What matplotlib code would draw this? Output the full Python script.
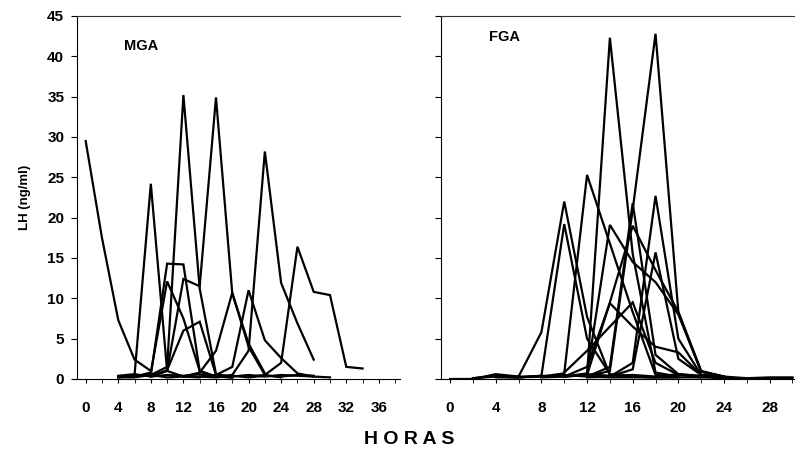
import matplotlib
matplotlib.use("Agg")
import matplotlib.pyplot as plt

plt.rcParams['font.family'] = ['Liberation Sans', 'DejaVu Sans']
plt.rcParams['font.weight'] = 'bold'

# LH profiles (ng/ml), sampled every 2 hours; each entry: (start hour, values)
MGA = [
    (0, [29.5, 17.5, 7.3, 2.4, 1.0]),
    (4, [0.3, 0.5, 24.2, 1.0, 0.3, 0.2]),
    (6, [0.3, 0.5, 1.5, 35.2, 11.2, 0.6, 0.3]),
    (4, [0.2, 0.4, 0.5, 14.3, 14.2, 1.0, 0.3, 0.2]),
    (8, [0.3, 1.0, 12.4, 11.5, 34.9, 10.6, 4.4, 0.7]),
    (6, [0.3, 0.8, 12.1, 7.5, 1.0, 0.3, 0.2]),
    (8, [0.3, 1.1, 6.0, 7.1, 0.5, 0.2]),
    (12, [0.3, 0.8, 3.5, 10.7, 4.0, 0.5, 0.2]),
    (14, [0.3, 0.5, 1.5, 11.0, 4.8, 2.6, 0.7, 0.3]),
    (16, [0.3, 0.5, 3.5, 28.2, 11.9, 6.9, 2.4]),
    (20, [0.3, 0.5, 2.0, 16.4, 10.8, 10.4, 1.5, 1.3]),
    (4, [0.4, 0.6, 0.3, 0.5, 0.4, 0.6, 0.4, 0.3, 0.5, 0.3, 0.5, 0.4, 0.3, 0.2]),
    (4, [0.2, 0.2, 0.5, 0.2, 0.3, 0.3, 0.2, 0.4, 0.2, 0.4, 0.3, 0.5, 0.4]),
]

FGA = [
    (0, [0.0, 0.0, 0.6, 0.3, 0.3, 0.5, 0.3, 0.2, 0.2, 0.2, 0.2, 0.2, 0.1, 0.1, 0.2, 0.2]),
    (2, [0.1, 0.4, 0.3, 5.8, 22.0, 7.7, 0.5, 0.3, 0.2, 0.2]),
    (2, [0.1, 0.3, 0.2, 0.4, 19.2, 5.0, 0.6, 0.3, 0.2]),
    (4, [0.2, 0.2, 0.3, 0.7, 25.3, 16.8, 8.3, 0.5, 0.3]),
    (8, [0.2, 0.3, 0.5, 42.3, 15.5, 0.8, 0.3]),
    (12, [0.3, 1.0, 21.0, 42.8, 8.3, 0.9, 0.3]),
    (10, [0.3, 0.7, 19.1, 14.5, 12.0, 8.0, 0.9, 0.3]),
    (12, [0.3, 1.5, 21.8, 3.0, 0.6, 0.3]),
    (10, [0.3, 0.5, 9.5, 19.0, 13.5, 8.3, 1.0, 0.3]),
    (14, [0.3, 2.0, 22.7, 5.0, 0.5, 0.2]),
    (10, [0.3, 1.5, 9.4, 6.5, 4.0, 3.3, 0.5, 0.2]),
    (12, [0.2, 0.3, 1.2, 15.7, 2.5, 0.5, 0.2]),
    (10, [0.8, 3.5, 6.5, 9.5, 2.0, 0.5, 0.2]),
    (4, [0.3, 0.2, 0.4, 0.3, 0.6, 0.4, 0.5, 0.3, 0.6, 0.4, 0.3, 0.1, 0.1, 0.1]),
]

fig = plt.figure(figsize=(7.95, 4.58), dpi=100)
ax1 = fig.add_axes([0.0965, 0.1725, 0.4067, 0.7926])
ax2 = fig.add_axes([0.5547, 0.1725, 0.445, 0.7926])


def draw(ax, series, xlim, xticks, name, name_xy):
    for start, vals in series:
        hours = [start + 2 * i for i in range(len(vals))]
        ax.plot(hours, vals, color='black', lw=1.6, solid_joinstyle='miter')
    ax.set_xlim(*xlim)
    ax.set_ylim(0, 45)
    ax.set_yticks(range(0, 46, 5))
    ax.set_xticks(xticks)
    ax.set_xticks(range(0, int(xlim[1]) + 1, 2), minor=True)
    ax.spines['right'].set_visible(False)
    ax.spines['top'].set_linewidth(0.8)
    ax.spines['top'].set_color('#333333')
    ax.tick_params(axis='x', which='both', length=3, pad=13, labelsize=11)
    ax.tick_params(axis='y', length=4, pad=5, labelsize=11)
    for lab in ax.get_xticklabels() + ax.get_yticklabels():
        lab.set_fontweight('bold')
    ax.text(name_xy[0], name_xy[1], name, fontsize=10.5, fontweight='bold',
            transform=ax.transAxes)


draw(ax1, MGA, (-1.1, 38.6), range(0, 37, 4), 'MGA', (0.145, 0.905))
draw(ax2, FGA, (-0.8, 30.2), range(0, 29, 4), 'FGA', (0.135, 0.93))
ax2.tick_params(axis='y', labelleft=False)

ax1.set_ylabel('LH (ng/ml)', fontsize=9.5, fontweight='bold', labelpad=12)
fig.text(0.515, 0.03, 'H O R A S', fontsize=14, fontweight='bold', ha='center')

fig.savefig('out.png', dpi=100)
